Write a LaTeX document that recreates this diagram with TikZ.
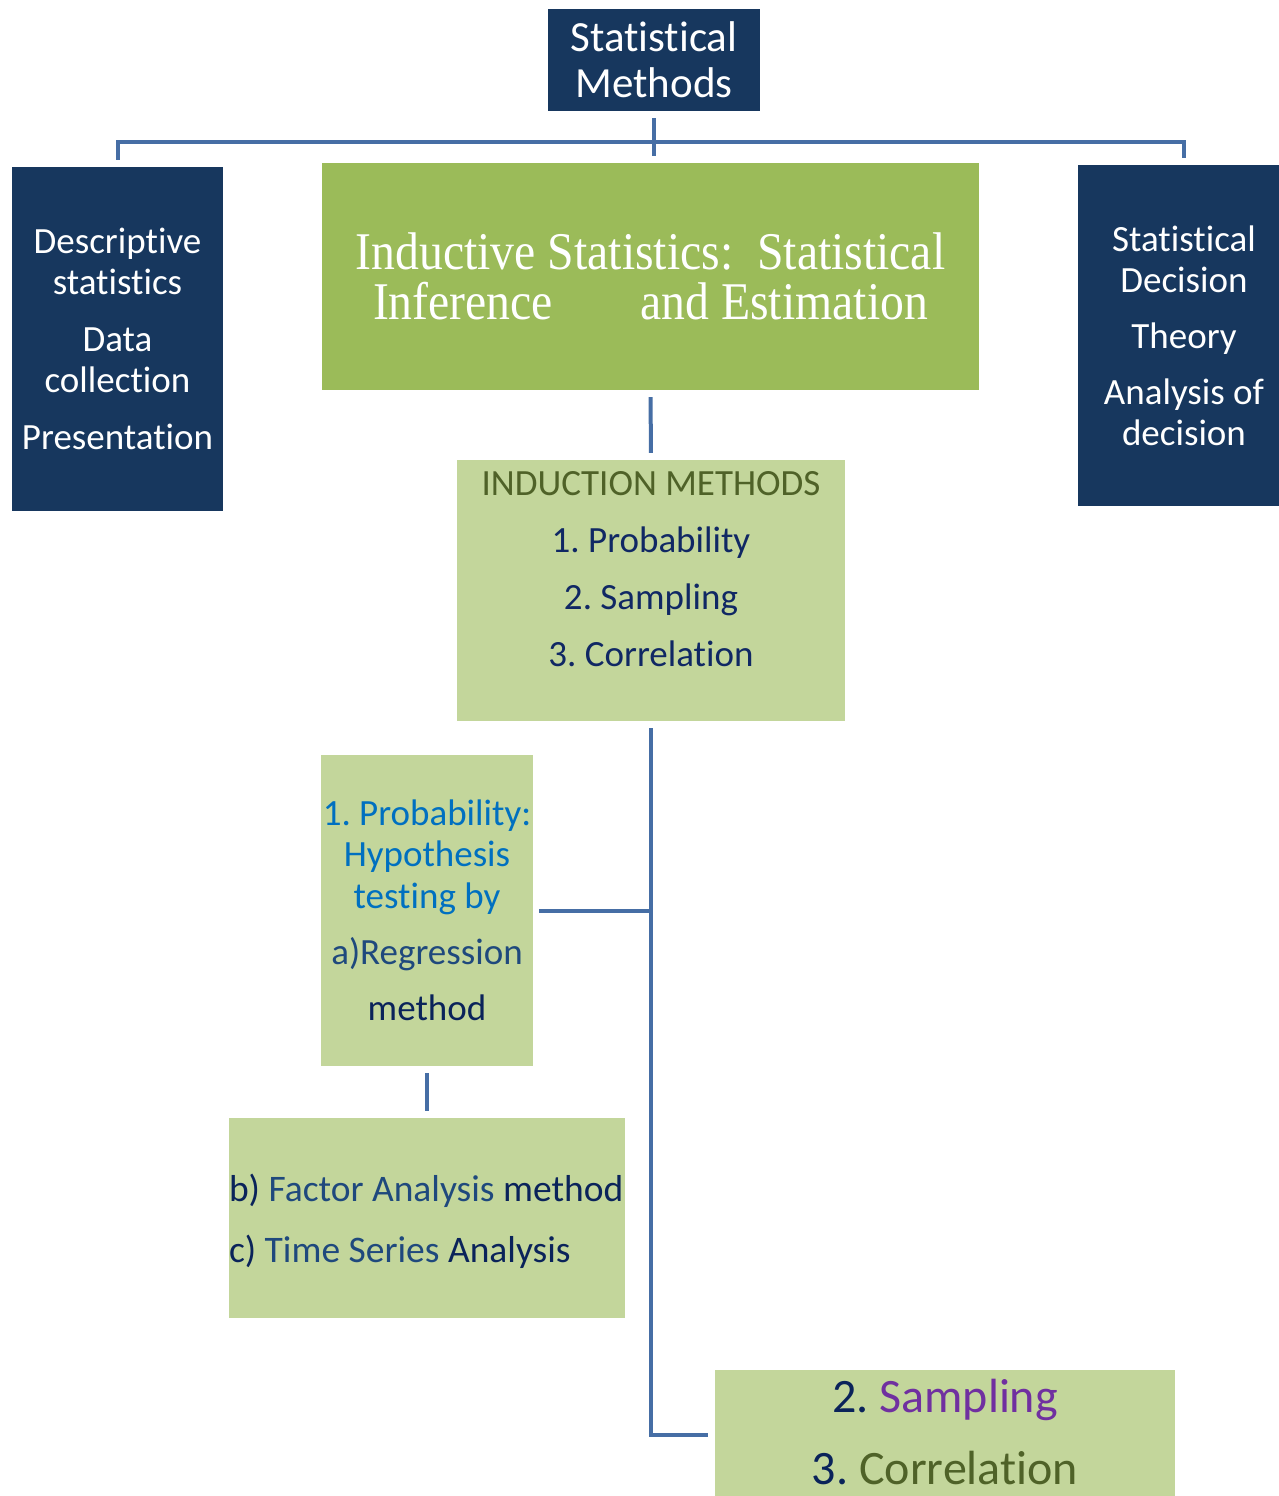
\documentclass[tikz,border=0pt]{standalone}
\usepackage{fontspec}
\setmainfont{Carlito}[Ligatures={NoCommon,NoRequired,NoContextual},RawFeature={-liga;-clig;-calt;-dlig;-rlig}]
\newfontfamily\serifA{Liberation Serif}
\usetikzlibrary{calc}
\definecolor{navybox}{RGB}{23,55,94}
\definecolor{greenbox}{RGB}{155,187,89}
\definecolor{lightgreen}{RGB}{195,214,155}
\definecolor{connblue}{RGB}{70,110,165}
\definecolor{olivetext}{RGB}{79,98,40}
\definecolor{navytext}{RGB}{16,40,100}
\definecolor{darknavy}{RGB}{10,35,90}
\definecolor{midblue}{RGB}{31,73,125}
\definecolor{probblue}{RGB}{0,112,192}
\definecolor{purpletext}{RGB}{112,48,160}
\frenchspacing
\begin{document}
\begin{tikzpicture}[x=1pt,y=-1pt,
  navy/.style={fill=navybox, text=white, inner sep=0pt, align=center},
  greenb/.style={fill=greenbox, text=white, inner sep=0pt, align=center},
  lightb/.style={fill=lightgreen, inner sep=0pt, align=center},
  conn/.style={draw=connblue, line width=4pt}]
\useasboundingbox (0,0) rectangle (1279,1496);
\clip (0,0) rectangle (1279,1496);

% boxes
\node[navy, minimum width=212pt, minimum height=102pt,
      font=\fontsize{43}{46}\selectfont] (top) at (654,60) {Statistical\\Methods};
\node[navy, minimum width=211pt, minimum height=344pt,
      font=\fontsize{37}{41}\selectfont] (desc) at (117.5,339)
      {Descriptive\\statistics\\[16pt]Data\\collection\\[16pt]Presentation};
\node[navy, minimum width=212pt, minimum height=341pt,
      font=\fontsize{37}{41}\selectfont] (dec) at (1184,335.5)
      {Statistical\\Decision\\[15pt]Theory\\[15pt]Analysis of\\decision};
\node[greenb, minimum width=657pt, minimum height=227pt,
      font=\serifA\fontsize{53}{50}\selectfont] (inf) at (650.5,276.5)
      {\scalebox{0.9}[1]{Inductive Statistics:\ \ Statistical}\\
       \scalebox{0.9}[1]{Inference\hspace*{97pt}and Estimation}};

\node[lightb, minimum width=388pt, minimum height=261pt] (ind) at (651,590.5) {};
\node[anchor=north, inner sep=0pt, align=center, text=navytext,
      font=\fontsize{37}{57}\selectfont] (indtxt) at (651,471)
      {\textcolor{olivetext}{INDUCTION METHODS}\\1. Probability\\2. Sampling\\3. Correlation};

\node[lightb, minimum width=212pt, minimum height=311pt,
      font=\fontsize{37}{41.5}\selectfont] (prob) at (427,910.5)
      {\textcolor{probblue}{1. Probability:}\\
       \textcolor{probblue}{Hypothesis}\\
       \textcolor{probblue}{testing by}\\[14.5pt]
       \textcolor{midblue}{a)Regression}\\[15pt]
       \textcolor{darknavy}{method}};

\node[lightb, minimum width=396pt, minimum height=200pt, text width=396pt, align=flush left,
      font=\fontsize{37.5}{61}\selectfont, text=darknavy] (fac) at (427,1218)
      {\rule{0pt}{35pt}b) \textcolor{midblue}{Factor Analysis} method\\
       c) \textcolor{midblue}{Time Series} Analysis};

\node[lightb, minimum width=460pt, minimum height=130pt,
      font=\fontsize{48}{72}\selectfont, text=darknavy] (samp) at (945,1435)
      {2. \textcolor{purpletext}{Sampling}\\3. \textcolor{olivetext}{Correlation}\rule[-6pt]{0pt}{6pt}};

% connectors
\coordinate (hub) at (654,142);
\draw[conn, shorten <=7pt] (top.south) -- (hub);
\draw[conn, shorten >=7pt] (hub) -| (desc.north);
\draw[conn, shorten >=7pt] (hub) -| (dec.north);
\draw[conn, shorten >=7pt] (hub) -- (hub |- inf.north);
\draw[conn, shorten <=7pt, shorten >=7pt] (inf.south) -- (ind.north);
\draw[conn, shorten <=7pt, shorten >=7pt] (ind.south) |- (samp.west);
\draw[conn, shorten >=6pt] (ind.south |- prob.east) -- (prob.east);
\draw[conn, shorten <=7pt, shorten >=7pt] (prob.south) -- (fac.north);
\end{tikzpicture}
\end{document}
